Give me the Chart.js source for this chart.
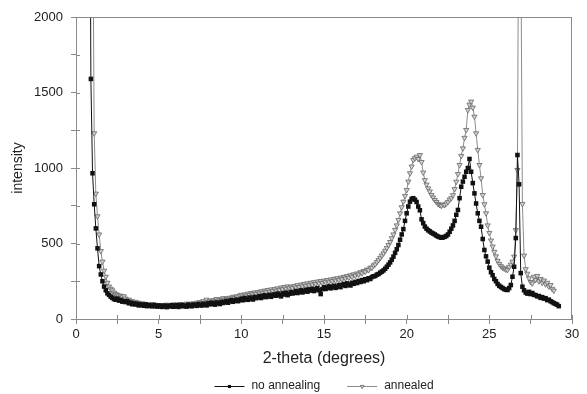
<!DOCTYPE html>
<html>
<head>
<meta charset="utf-8">
<script src="https://cdn.jsdelivr.net/npm/chart.js@4"></script>
<style>
  html, body { margin: 0; padding: 0; background: #fff; }
</style>
</head>
<body>
<canvas id="xrdChart" width="587" height="394"></canvas>
<script>
// 2-theta grid: 0.8 .. 29.2 deg, step 0.1
const startAngle = 0.8;
const angleStep = 0.1;

// intensity, no annealing (one row per degree)
const noAnnealing = [
  4200, 1590,
  965, 760, 600, 468, 350, 295, 250, 215, 190, 170,
  160, 148, 140, 132, 128, 135, 122, 126, 115, 118,
  112, 118, 104, 109, 98, 103, 96, 101, 90, 97,
  93, 88, 97, 85, 92, 89, 84, 94, 87, 82,
  90, 84, 80, 89, 86, 79, 88, 83, 91, 81,
  86, 92, 80, 87, 93, 84, 89, 82, 95, 88,
  84, 96, 91, 87, 99, 93, 89, 101, 95, 90,
  104, 97, 108, 101, 95, 110, 104, 99, 114, 106,
  112, 120, 108, 118, 125, 114, 121, 128, 118, 126,
  134, 124, 139, 130, 127, 142, 135, 129, 146, 138,
  143, 152, 139, 148, 157, 145, 151, 160, 147, 156,
  163, 154, 168, 159, 150, 170, 162, 174, 158, 167,
  178, 169, 174, 185, 172, 180, 190, 176, 184, 193,
  181, 196, 188, 200, 185, 195, 204, 190, 165, 198,
  210, 199, 207, 216, 203, 212, 220, 206, 214, 224,
  211, 226, 232, 219, 236, 228, 222, 240, 233, 246,
  238, 252, 245, 258, 250, 264, 257, 270, 265, 278,
  283, 285, 294, 298, 307, 314, 322, 333, 346, 360,
  375, 393, 413, 438, 462, 490, 525, 560, 595, 650,
  700, 745, 777, 795, 800, 790, 775, 745, 720, 660,
  635, 612, 598, 588, 580, 572, 566, 560, 552, 546,
  542, 538, 540, 545, 550, 560, 578, 598, 620, 650,
  690, 722, 800, 876, 910, 942, 975, 1000, 1060, 975,
  900, 832, 765, 700, 650, 611, 530, 457, 415, 380,
  340, 310, 290, 265, 250, 232, 220, 212, 205, 198,
  194, 192, 205, 225, 280, 346, 536, 1086, 892, 304,
  214, 190, 175, 168, 180, 165, 172, 160, 158, 150,
  152, 140, 145, 135, 138, 125, 128, 118, 112, 105,
  100, 95, 85
];

// intensity, annealed
const annealed = [
  null, 4800,
  3000, 1230, 830, 680, 560, 450, 380, 320, 280, 240,
  215, 200, 190, 175, 165, 160, 150, 155, 148, 150,
  135, 122, 128, 112, 118, 106, 113, 102, 108, 99,
  104, 95, 100, 92, 98, 90, 96, 88, 94, 91,
  87, 93, 86, 91, 84, 95, 89, 92, 86, 97,
  90, 94, 88, 99, 93, 96, 91, 102, 95, 100,
  97, 104, 99, 108, 102, 112, 105, 118, 108, 128,
  112, 121, 115, 125, 118, 132, 122, 130, 126, 138,
  128, 137, 132, 141, 135, 147, 139, 150, 144, 155,
  160, 150, 163, 156, 168, 158, 172, 164, 176, 167,
  178, 170, 184, 174, 188, 178, 192, 181, 196, 185,
  198, 188, 203, 193, 208, 197, 212, 201, 216, 205,
  214, 204, 219, 208, 224, 212, 228, 216, 232, 220,
  236, 224, 240, 228, 244, 232, 248, 236, 252, 240,
  254, 243, 258, 247, 262, 251, 266, 255, 270, 259,
  274, 264, 279, 269, 284, 274, 290, 280, 296, 287,
  302, 295, 310, 303, 318, 313, 328, 324, 340, 340,
  355, 362, 378, 390, 405, 420, 435, 452, 470, 490,
  510, 535, 560, 590, 620, 656, 700, 740, 777, 815,
  854, 910, 965, 1010, 1053, 1065, 1075, 1060, 1086, 1040,
  970, 920, 890, 865, 845, 821, 805, 788, 775, 762,
  755, 750, 758, 755, 765, 775, 790, 800, 820, 860,
  909, 960, 1020, 1080, 1130, 1200, 1252, 1384, 1420, 1440,
  1400, 1340, 1230, 1120, 1020, 932, 821, 760, 700, 620,
  570, 520, 480, 445, 415, 385, 365, 350, 340, 335,
  328, 325, 345, 360, 380, 413, 589, 987, 3400, 2600,
  762, 420, 330, 300, 270, 245, 236, 280, 260, 285,
  250, 265, 240, 255, 230, 240, 215, 225, 200, 188,
  null, null, null
];

const seriesLabels = ['no annealing', 'annealed'];
const xTickLabels = [0, 5, 10, 15, 20, 25, 30];
const yTickLabels = [0, 500, 1000, 1500, 2000];

const twoTheta = noAnnealing.map((_, i) => Math.round((startAngle + i * angleStep) * 10) / 10);
const toPoints = arr => twoTheta.map((t, i) => ({ x: t, y: arr[i] }));

const FONT = '"Liberation Sans", Arial, sans-serif';
const AXIS_GREY = '#8a8a8a';

/* frame on top/right + ticks that cross into the plot */
const frameTicks = {
  id: 'frameTicks',
  afterDatasetsDraw(chart) {
    const { ctx, chartArea: a, scales: { x, y } } = chart;
    ctx.save();
    ctx.strokeStyle = AXIS_GREY;
    ctx.lineWidth = 1;
    ctx.beginPath();
    ctx.moveTo(a.left, a.top + 0.5); ctx.lineTo(a.right, a.top + 0.5);
    ctx.moveTo(a.right - 0.5, a.top); ctx.lineTo(a.right - 0.5, a.bottom);
    x.ticks.forEach(t => {
      const px = Math.round(x.getPixelForValue(t.value)) + 0.5;
      ctx.moveTo(px, a.bottom); ctx.lineTo(px, a.bottom - 4);
    });
    y.ticks.forEach(t => {
      const py = Math.round(y.getPixelForValue(t.value)) + 0.5;
      ctx.moveTo(a.left, py); ctx.lineTo(a.left + 4, py);
    });
    ctx.stroke();
    ctx.restore();
  }
};

/* legend drawn as line + marker, like the original plot */
const lineLegend = {
  id: 'lineLegend',
  afterDraw(chart) {
    const { ctx, chartArea: a } = chart;
    const sets = chart.data.datasets;
    ctx.save();
    ctx.font = '12px ' + FONT;
    const lineW = 30, gapText = 7, gapItem = 27;
    const widths = sets.map(ds => lineW + gapText + ctx.measureText(ds.label).width);
    const total = widths.reduce((s, w) => s + w, 0) + gapItem * (sets.length - 1);
    let x0 = (a.left + a.right) / 2 - total / 2;
    const yc = chart.height - 8;
    sets.forEach((ds, i) => {
      ctx.strokeStyle = ds.borderColor;
      ctx.lineWidth = 1;
      ctx.beginPath();
      ctx.moveTo(x0, yc + 0.5); ctx.lineTo(x0 + lineW, yc + 0.5);
      ctx.stroke();
      ctx.fillStyle = ds.pointBackgroundColor;
      ctx.strokeStyle = ds.pointBorderColor;
      ctx.lineWidth = ds.pointBorderWidth;
      Chart.helpers.drawPoint(ctx, {
        pointStyle: ds.pointStyle, rotation: ds.pointRotation || 0,
        radius: 2.2, borderWidth: ds.pointBorderWidth
      }, x0 + lineW / 2, yc + 0.5);
      ctx.fillStyle = '#222';
      ctx.textBaseline = 'middle';
      ctx.textAlign = 'left';
      ctx.fillText(ds.label, x0 + lineW + gapText, yc);
      x0 += widths[i] + gapItem;
    });
    ctx.restore();
  }
};

function chartXrd() {
  const ctx = document.getElementById('xrdChart').getContext('2d');
  new Chart(ctx, {
    type: 'line',
    data: {
      datasets: [{
        label: seriesLabels[0],
        data: toPoints(noAnnealing),
        borderColor: '#111',
        borderWidth: 1,
        pointStyle: 'rect',
        pointRadius: 3.2,
        pointBackgroundColor: '#111',
        pointBorderColor: '#111',
        pointBorderWidth: 0,
        tension: 0
      }, {
        label: seriesLabels[1],
        data: toPoints(annealed),
        borderColor: '#8c8c8c',
        borderWidth: 1,
        pointStyle: 'triangle',
        pointRotation: 180,
        pointRadius: 3,
        pointBackgroundColor: '#d0d0d0',
        pointBorderColor: '#666',
        pointBorderWidth: 0.8,
        tension: 0
      }]
    },
    options: {
      responsive: false,
      animation: false,
      layout: { padding: { left: 0, right: 15, top: 17, bottom: 20 } },
      plugins: { legend: { display: false }, tooltip: { enabled: false } },
      scales: {
        x: {
          type: 'linear', min: 0, max: 30,
          afterFit: s => { s.height = 55; },
          border: { display: true, color: AXIS_GREY },
          grid: { drawOnChartArea: false, color: AXIS_GREY, tickLength: 5 },
          ticks: {
            stepSize: 2.5, autoSkip: false, maxRotation: 0, padding: 3,
            color: '#222', font: { family: FONT, size: 13 },
            callback: v => xTickLabels.includes(v) ? v : ''
          },
          title: {
            display: true, text: '2-theta (degrees)', color: '#222',
            font: { family: FONT, size: 16 }, padding: { top: 0, bottom: 6 }
          }
        },
        y: {
          min: 0, max: 2000,
          afterFit: s => { s.width = 76; },
          border: { display: true, color: AXIS_GREY },
          grid: { drawOnChartArea: false, color: AXIS_GREY, tickLength: 5 },
          ticks: {
            stepSize: 250, autoSkip: false, padding: 8,
            color: '#222', font: { family: FONT, size: 13 },
            callback: v => yTickLabels.includes(v) ? v : ''
          },
          title: {
            display: true, text: 'intensity', color: '#222',
            font: { family: FONT, size: 14 }, padding: { top: 10, bottom: 0 }
          }
        }
      }
    },
    plugins: [frameTicks, lineLegend]
  });
}

window.onload = function () { chartXrd(); };
</script>
</body>
</html>
